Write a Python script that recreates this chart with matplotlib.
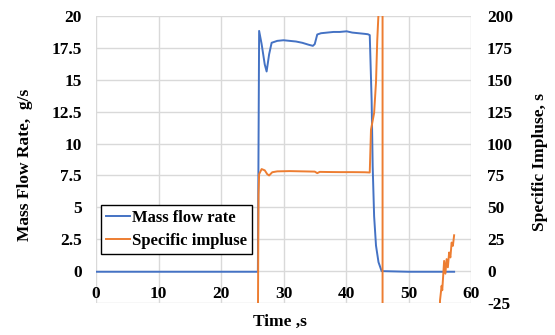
import matplotlib
matplotlib.use("Agg")
import matplotlib.pyplot as plt

# ---- data ----
mass_time = [0, 10, 20, 25.9, 26.1, 26.5, 27.0, 27.3, 27.7, 28.1, 29.0, 30.0, 31.0,
             32.0, 33.0, 34.0, 34.7, 35.0, 35.4, 36.0, 37.0, 38.0, 39.0, 40.1, 41.0,
             42.0, 43.0, 43.5, 43.8, 44.1, 44.27, 44.5, 44.8, 45.2, 45.7, 50.0, 57.3]
mass_flow = [-0.05, -0.05, -0.05, -0.05, 18.83, 17.8, 16.2, 15.65, 17.0, 17.9, 18.05, 18.1, 18.05,
             18.0, 17.9, 17.75, 17.66, 17.8, 18.55, 18.65, 18.7, 18.75, 18.75, 18.8, 18.7,
             18.65, 18.6, 18.57, 18.5, 13.4, 8.2, 4.3, 2.0, 0.7, 0.0, -0.05, -0.05]

isp_time = [25.85, 26.0, 26.1, 26.5, 27.0, 27.4, 27.7, 28.2, 29.0, 31.0, 33.0, 35.0,
            35.4, 35.8, 37.0, 39.0, 41.0, 43.0, 43.8, 44.0, 44.5, 44.8, 45.0, 45.2,
            45.5, 45.83, 45.87, 54.95, 55.04, 55.3, 55.4, 55.7, 55.9, 56.1, 56.3,
            56.5, 56.7, 56.9, 57.1, 57.3]
isp = [-100, 60, 76, 80, 79, 76, 75, 77.5, 78.2, 78.4, 78.2, 78.0,
       76.8, 77.8, 77.7, 77.6, 77.6, 77.5, 77.3, 111, 124, 148, 181, 202,
       400, 5000, -5000, -60, -23, -11.5, -15, 8, -2, 9.4, 3,
       14.6, 10.7, 22.4, 19.8, 28.1]

x_ticks = [0, 10, 20, 30, 40, 50, 60]
left_ticks = [-2.5, 0, 2.5, 5, 7.5, 10, 12.5, 15, 17.5, 20]
left_labels = ["", "0", "2.5", "5", "7.5", "10", "12.5", "15", "17.5", "20"]
right_ticks = [-25, 0, 25, 50, 75, 100, 125, 150, 175, 200]

# ---- styling ----
plt.rcParams['font.family'] = ['Liberation Serif', 'DejaVu Serif']
plt.rcParams['font.weight'] = 'bold'
FS = 12.5
BLUE = '#4472C4'
ORANGE = '#ED7D31'
GRID = '#D9D9D9'

fig = plt.figure(figsize=(5.55, 3.35), dpi=100)
ax = fig.add_axes([96/555, 1-303/335, (471-96)/555, (303-16)/335])
ax.spines['bottom'].set_position(('data', 0))
ax2 = ax.twinx()

ax.plot(mass_time, mass_flow, color=BLUE, lw=1.4, label='Mass flow rate', zorder=3)
ax2.plot(isp_time, isp, color=ORANGE, lw=1.4, label='Specific impluse', zorder=3)

ax.set_xlim(0, 60)
ax.set_ylim(-2.5, 20)
ax2.set_ylim(-25, 200)

ax.set_xticks(x_ticks)
ax.set_xticklabels([str(v) for v in x_ticks])
ax.set_yticks(left_ticks)
ax.set_yticklabels(left_labels)
ax2.set_yticks(right_ticks)
ax2.set_yticklabels([str(v) for v in right_ticks])

for a in (ax, ax2):
    for s in a.spines.values():
        s.set_visible(False)
ax.tick_params(axis='x', length=0, pad=11, labelsize=FS)
ax.tick_params(axis='y', length=0, pad=10, labelsize=FS)
ax2.tick_params(axis='y', length=0, pad=11.5, labelsize=FS)
for lab in ax.get_xticklabels() + ax.get_yticklabels() + ax2.get_yticklabels():
    lab.set_fontweight('bold')

ax.grid(True, color=GRID, lw=1.0, zorder=0)
ax.set_axisbelow(True)

fig.text(25/555, 1-165/335, 'Mass Flow Rate,  g/s', rotation=90, ha='center', va='center',
         fontsize=FS, fontweight='bold')
fig.text(540/555, 1-162/335, 'Specific Impluse, s', rotation=90, ha='center', va='center',
         fontsize=FS, fontweight='bold')
fig.text(280/555, 1-322/335, 'Time ,s', ha='center', va='center',
         fontsize=FS, fontweight='bold')

h1, l1 = ax.get_legend_handles_labels()
h2, l2 = ax2.get_legend_handles_labels()
leg = ax2.legend(h1 + h2, l1 + l2, loc='lower left', bbox_to_anchor=(101/555, 1-254/335),
                 bbox_transform=fig.transFigure, borderaxespad=0, fancybox=False,
                 edgecolor='black', framealpha=1, prop={'size': 12, 'weight': 'bold'},
                 handlelength=1.45, handletextpad=0.1, borderpad=0.3, labelspacing=0.45)
leg.get_frame().set_linewidth(1.0)
leg.set_zorder(10)

fig.savefig('out.png', dpi=100)
